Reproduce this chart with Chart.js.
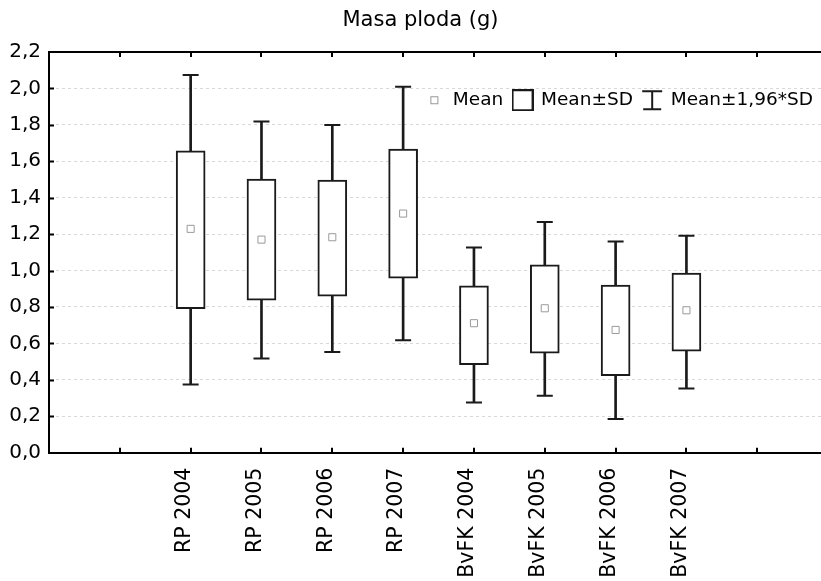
<!DOCTYPE html>
<html><head><meta charset="utf-8">
<script src="https://cdn.jsdelivr.net/npm/chart.js@4.4.1/dist/chart.umd.min.js"></script>
<style>html,body{margin:0;padding:0;background:#fff}canvas{display:block}</style>
</head><body>
<canvas id="c" width="821" height="581"></canvas>
<script>
// ---- data ----
const titleText = 'Masa ploda (g)';
const groups = ['RP 2004', 'RP 2005', 'RP 2006', 'RP 2007', 'BvFK 2004', 'BvFK 2005', 'BvFK 2006', 'BvFK 2007'];
const slotLabels = ['', 'RP 2004', 'RP 2005', 'RP 2006', 'RP 2007', 'BvFK 2004', 'BvFK 2005', 'BvFK 2006', 'BvFK 2007', ''];
const means  = [1.229, 1.170, 1.183, 1.313, 0.711, 0.793, 0.674, 0.782];
const sdLow  = [0.791, 0.837, 0.859, 0.958, 0.484, 0.546, 0.423, 0.557];
const sdHigh = [1.658, 1.502, 1.497, 1.667, 0.916, 1.031, 0.920, 0.986];
const ciLow  = [0.374, 0.517, 0.553, 0.618, 0.275, 0.313, 0.185, 0.352];
const ciHigh = [2.074, 1.819, 1.799, 2.009, 1.126, 1.266, 1.159, 1.191];
const yMin = 0, yMax = 2.2, yStep = 0.2;
const legendNames = ['Mean', 'Mean\u00b1SD', 'Mean\u00b11,96*SD'];

// slot value on the x axis for each group (slot 1 is empty)
const xOf = i => slotLabels.indexOf(groups[i]) + 1;

// ---- legend icons ----
function icon(draw) {
  const c = document.createElement('canvas'); c.width = 22; c.height = 22;
  const g = c.getContext('2d'); draw(g); return c;
}
const iconMean = icon(g => { g.fillStyle = '#fff'; g.fillRect(7.5, 7.5, 7, 7); g.strokeStyle = '#999'; g.lineWidth = 1; g.strokeRect(7.5, 7.5, 7, 7); });
const iconBox = icon(g => { g.strokeStyle = '#1a1a1a'; g.lineWidth = 2; g.strokeRect(1, 1, 20, 20); });
const iconWhisk = icon(g => { g.strokeStyle = '#1a1a1a'; g.lineWidth = 2; g.beginPath();
  g.moveTo(1, 2); g.lineTo(21, 2); g.moveTo(11, 2); g.lineTo(11, 20); g.moveTo(2, 20); g.lineTo(20, 20); g.stroke(); });
const legendIcons = {};
legendIcons[legendNames[0]] = iconMean;
legendIcons[legendNames[1]] = iconBox;
legendIcons[legendNames[2]] = iconWhisk;

const ink = '#1a1a1a';

const frame = {
  id: 'frame',
  afterLayout(chart) {
    const lg = chart.legend;
    if (!lg) return;
    const h = 40;
    lg.top = 81; lg.bottom = lg.top + h; lg.height = h;
    lg.right = 823; lg.width = lg.right - lg.left;
  },
  afterDraw(chart) {
    const {ctx, chartArea: a, scales: {x, y}} = chart;
    ctx.save();
    ctx.strokeStyle = '#000';
    ctx.lineWidth = 2;
    ctx.beginPath(); ctx.moveTo(a.left - 1, a.top); ctx.lineTo(a.right, a.top); ctx.stroke();
    ctx.beginPath();
    x.ticks.forEach(t => {
      if (t.value < 1) return;
      const px = Math.round(x.getPixelForValue(t.value));
      ctx.moveTo(px, a.top); ctx.lineTo(px, a.top + 5);
      ctx.moveTo(px, a.bottom); ctx.lineTo(px, a.bottom - 5);
    });
    y.ticks.forEach(t => {
      if (t.value <= yMin || t.value >= yMax - 1e-6) return;
      const py = Math.round(y.getPixelForValue(t.value)) + 0.5;
      ctx.moveTo(a.left, py); ctx.lineTo(a.left + 5, py);
    });
    ctx.stroke();
    ctx.restore();
  }
};

Chart.defaults.font.family = 'DejaVu Sans';
Chart.defaults.color = '#000';

new Chart(document.getElementById('c'), {
  type: 'bar',
  data: {
    datasets: [
      {
        type: 'scatter', label: legendNames[0], order: 0,
        data: means.map((m, i) => ({x: xOf(i), y: m})),
        pointStyle: 'rect', radius: 5, borderWidth: 1,
        borderColor: '#9a9a9a', backgroundColor: '#fff'
      },
      {
        type: 'scatter', label: 'caps', order: 1,
        data: groups.flatMap((g, i) => [{x: xOf(i), y: ciHigh[i]}, {x: xOf(i), y: ciLow[i]}]),
        pointStyle: 'line', radius: 8, borderWidth: 2, borderColor: ink, backgroundColor: ink
      },
      {
        type: 'bar', label: legendNames[1], order: 2, grouped: false,
        data: groups.map((g, i) => ({x: xOf(i), y: [sdLow[i], sdHigh[i]]})),
        barThickness: 29, borderWidth: 2, borderSkipped: false,
        borderColor: ink, backgroundColor: '#fff'
      },
      {
        type: 'bar', label: legendNames[2], order: 3, grouped: false,
        data: groups.map((g, i) => ({x: xOf(i), y: [ciLow[i], ciHigh[i]]})),
        barThickness: 2, borderWidth: 0, backgroundColor: ink
      }
    ]
  },
  options: {
    responsive: false,
    animation: false,
    devicePixelRatio: 1,
    events: [],
    layout: {autoPadding: false, padding: {left: 0, right: -20, top: 0, bottom: 0}},
    plugins: {
      tooltip: {enabled: false},
      title: {
        display: true, text: titleText, color: '#000',
        font: {size: 21, weight: 'normal', family: 'DejaVu Sans'},
        padding: {top: 8, bottom: 18.8}
      },
      legend: {
        display: true, position: 'top', align: 'end', maxHeight: 0.001,
        labels: {
          usePointStyle: true, boxWidth: 23, padding: 10, color: '#000',
          font: {size: 18.5, family: 'DejaVu Sans'},
          generateLabels(chart) {
            const items = Chart.defaults.plugins.legend.labels.generateLabels(chart);
            return items.filter(it => legendIcons[it.text]).map(it => Object.assign(it, {pointStyle: legendIcons[it.text]}));
          }
        }
      }
    },
    scales: {
      x: {
        type: 'linear', min: 0, max: 10.9, offset: false,
        grid: {display: false, drawTicks: false},
        border: {display: true, color: '#000', width: 2},
        ticks: {
          stepSize: 1, includeBounds: false, autoSkip: false,
          minRotation: 90, maxRotation: 90, padding: 15, labelOffset: -6,
          font: {size: 20.5, family: 'DejaVu Sans'}, color: '#000',
          callback: v => slotLabels[Math.round(v) - 1] || ''
        },
        afterFit(s) { s.height = 128.3; s.paddingRight = 0; s.paddingLeft = 0; }
      },
      y: {
        type: 'linear', min: yMin, max: yMax,
        grid: {
          drawTicks: false, lineWidth: 1,
          color: c => (c.tick && (c.tick.value <= yMin || c.tick.value >= yMax - 1e-6)) ? 'rgba(0,0,0,0)' : '#d8d8d8'
        },
        border: {display: true, color: '#000', width: 2, dash: [3, 3], dashOffset: 0},
        ticks: {
          stepSize: yStep, padding: 8, color: '#000',
          font: {size: 20, family: 'DejaVu Sans'},
          callback: v => Number(v).toFixed(1).replace('.', ',')
        },
        afterFit(s) { s.width = 49; }
      }
    }
  },
  plugins: [frame]
});
</script>
</body></html>
